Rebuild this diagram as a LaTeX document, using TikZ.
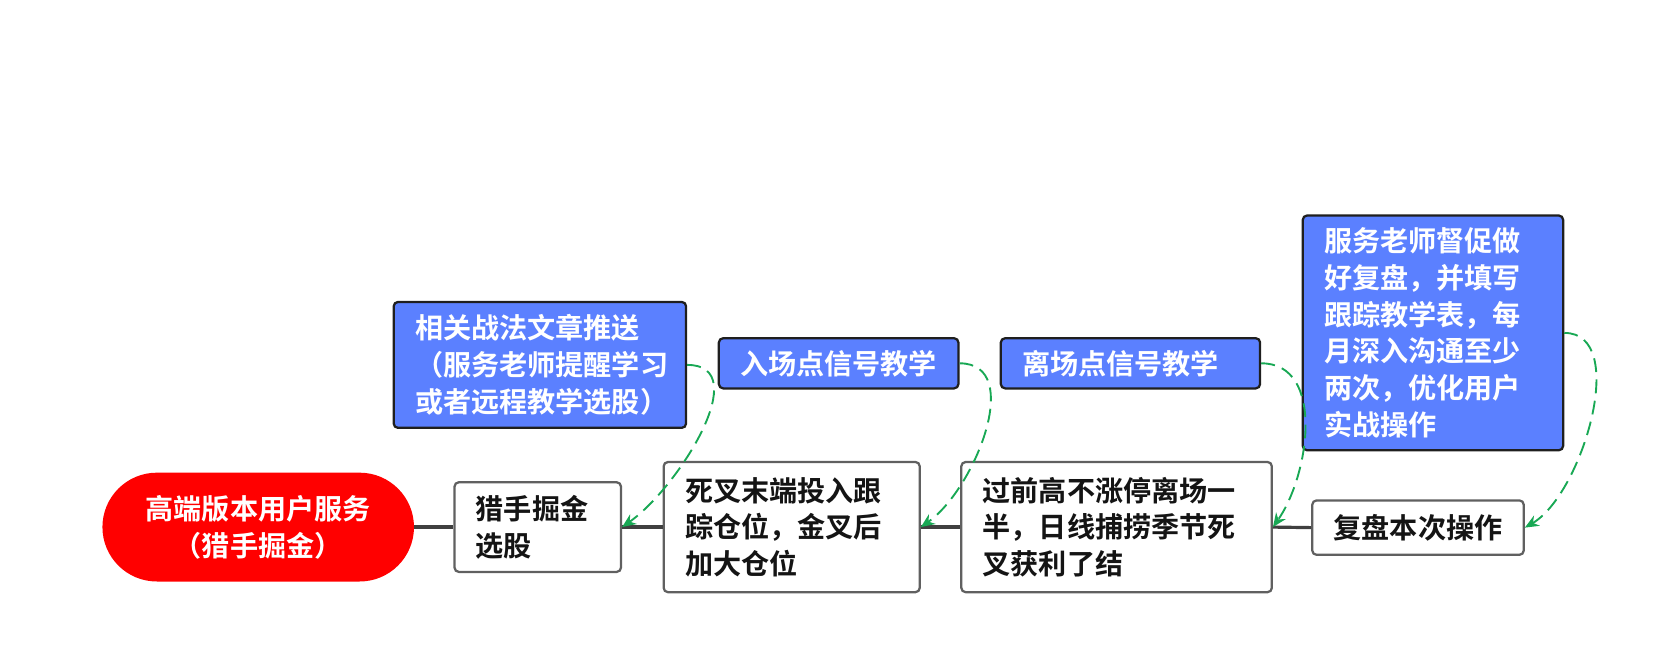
\documentclass[tikz,border=0pt]{standalone}
\usepackage{fontspec}
\setmainfont{Noto Sans CJK SC}[BoldFont={Noto Sans CJK SC Bold}]
\usetikzlibrary{arrows.meta}
\definecolor{planblue}{RGB}{91,128,255}
\definecolor{trunkgray}{RGB}{64,64,64}
\definecolor{edgegray}{RGB}{96,96,96}
\definecolor{hintgreen}{RGB}{24,168,84}
\definecolor{rootred}{RGB}{255,0,0}
\tikzset{
    rootnode/.style={fill=rootred, rounded corners=1.02cm, text=white, align=center,
        minimum width=5.84cm, minimum height=2.04cm, font=\bfseries\fontsize{15pt}{19.6pt}\selectfont},
    stepnode/.style={draw=edgegray, line width=1.2pt, rounded corners=0.08cm, fill=white,
        text=black!92, inner xsep=0.4cm, align=left, font=\bfseries\fontsize{15pt}{19.6pt}\selectfont},
    tipnode/.style={draw=black!88, line width=1.2pt, rounded corners=0.08cm, fill=planblue,
        text=white, inner xsep=0.4cm, align=left, font=\bfseries\fontsize{15pt}{19.6pt}\selectfont},
    trunk/.style={trunkgray, line width=1.7pt},
    hint/.style={hintgreen, line width=1pt, dash pattern=on 0.26cm off 0.14cm,
        -{Stealth[length=0.26cm, width=0.22cm]}},
}

\begin{document}
\begin{tikzpicture}
    \useasboundingbox (0,0) rectangle (31.36,-12.56);
    % main line
        \node[rootnode] (root) at (4.84,-9.88) {高端版本用户服务\\（猎手掘金）};
        \node[stepnode, text width=2.32cm, minimum height=1.68cm] (liesh) at (10.08,-9.88) {猎手掘金\\选股};
        \node[stepnode, text width=4.0cm, minimum height=2.44cm] (sicha) at (14.84,-9.88) {死叉末端投入跟\\踪仓位，金叉后\\加大仓位};
        \node[stepnode, text width=5.02cm, minimum height=2.44cm] (guoqian) at (20.93,-9.88) {过前高不涨停离场一\\半，日线捕捞季节死\\叉获利了结};
        \node[stepnode, align=center, minimum width=3.92cm, minimum height=1.02cm] (fupan) at (26.58,-9.89) {复盘本次操作};
    % tips above
        \node[tipnode, text width=4.68cm, minimum height=2.36cm] (xiangguan) at (10.12,-6.84) {相关战法文章推送\\（服务老师提醒学习\\或者远程教学选股）};
        \node[tipnode, align=center, minimum width=4.44cm, minimum height=0.94cm] (ruchang) at (15.72,-6.81) {入场点信号教学};
        \node[tipnode, text width=4.06cm, minimum height=0.94cm] (lichang) at (21.19,-6.81) {离场点信号教学};
        \node[tipnode, text width=4.08cm, minimum height=4.4cm] (fuwu) at (26.86,-6.24) {服务老师督促做\\好复盘，并填写\\跟踪教学表，每\\月深入沟通至少\\两次，优化用户\\实战操作};
        \draw[trunk] (root.east) -- (liesh.west);
        \draw[trunk] (sicha.west) -- (liesh.east);
        \draw[trunk] (guoqian.west) -- (sicha.east);
        \draw[trunk] (fupan.west) -- (guoqian.east);
        \draw[hint] (xiangguan.east) to[out=0, in=35] (liesh.east);
        \draw[hint] (ruchang.east) to[out=0, in=35] (sicha.east);
        \draw[hint] (lichang.east) to[out=0, in=55] (guoqian.east);
        \draw[hint] (fuwu.east) to[out=0, in=30, looseness=0.85] (fupan.east);
    \end{tikzpicture}
\end{document}
